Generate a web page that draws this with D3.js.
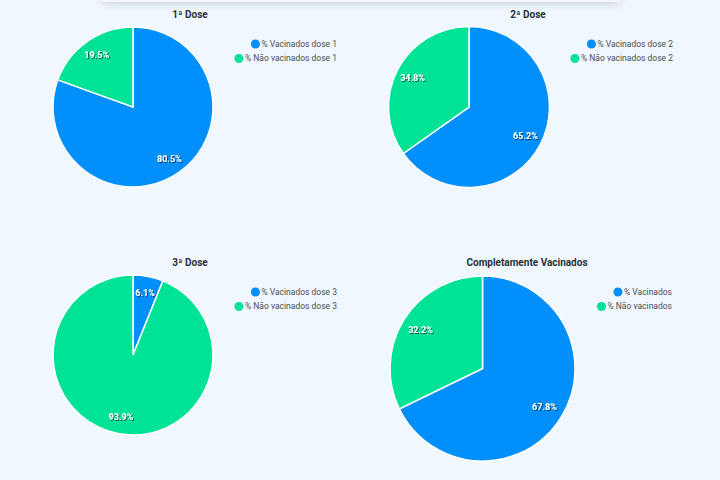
<!DOCTYPE html>
<html><head><meta charset="utf-8">
<script src="https://cdn.jsdelivr.net/npm/d3@7"></script>
<style>
html,body{margin:0;padding:0;background:#f0f7fe;}
svg{display:block;font-family:Roboto,"Noto Sans",sans-serif;}
</style></head>
<body>
<svg id="c" width="720" height="480"></svg>
<script>
const titles = ["1ª Dose","2ª Dose","3ª Dose","Completamente Vacinados"];
const labels = [
  ["% Vacinados dose 1","% Não vacinados dose 1"],
  ["% Vacinados dose 2","% Não vacinados dose 2"],
  ["% Vacinados dose 3","% Não vacinados dose 3"],
  ["% Vacinados","% Não vacinados"]
];
const values = [
  [80.5, 19.5],
  [65.2, 34.8],
  [6.1, 93.9],
  [67.8, 32.2]
];
const colors = ["#008FFB","#00E396"];

// layout per chart
const layout = [
  {cx:133, cy:107, r:80, tx:190, ty:18, lx:337, ly:44},
  {cx:469, cy:107, r:80.5, tx:528, ty:18, lx:673, ly:44},
  {cx:133, cy:355, r:80, tx:190, ty:266, lx:337, ly:292},
  {cx:482.5, cy:368.5, r:92.5, tx:527, ty:266, lx:672, ly:292}
];

const svg = d3.select("#c");
const defs = svg.append("defs");
const f = defs.append("filter").attr("id","sh").attr("x","-20%").attr("y","-50%").attr("width","140%").attr("height","300%");
f.append("feGaussianBlur").attr("in","SourceAlpha").attr("stdDeviation",5);
f.append("feOffset").attr("dy",1).attr("result","b");
f.append("feComponentTransfer").append("feFuncA").attr("type","linear").attr("slope",0.18);
const m = f.append("feMerge"); m.append("feMergeNode"); m.append("feMergeNode").attr("in","SourceGraphic");

const tf = defs.append("filter").attr("id","ts").attr("x","-20%").attr("y","-50%").attr("width","140%").attr("height","200%");
tf.append("feDropShadow").attr("dx",1).attr("dy",1).attr("stdDeviation",0.7).attr("flood-color","#000").attr("flood-opacity",0.6);

// top card
svg.append("rect").attr("x",101).attr("y",-30).attr("width",520).attr("height",32).attr("rx",4)
  .attr("fill","#f3f7fc").attr("filter","url(#sh)");

const pie = d3.pie().sort(null).value(d=>d);
const color = d3.scaleOrdinal().domain([0,1]).range(colors);

layout.forEach((L,i)=>{
  const g = svg.append("g");
  const arcs = pie(values[i]);
  const arc = d3.arc().innerRadius(0).outerRadius(L.r);
  const la = d3.arc().innerRadius(L.r*0.79).outerRadius(L.r*0.79);
  const pg = g.append("g").attr("transform",`translate(${L.cx},${L.cy})`);
  pg.selectAll("path").data(arcs).join("path")
    .attr("d",arc).attr("fill",(d,j)=>color(j))
    .attr("stroke","#fff").attr("stroke-width",1.5);
  pg.selectAll("text").data(arcs).join("text")
    .attr("transform",d=>`translate(${la.centroid(d)})`)
    .attr("text-anchor","middle").attr("dy","0.35em")
    .attr("fill","#fff").attr("font-size",9).attr("font-weight","bold")
    .attr("filter","url(#ts)")
    .text(d=>d.data.toFixed(1)+"%");
  g.append("text").attr("x",L.tx).attr("y",L.ty).attr("text-anchor","middle")
    .attr("font-size",10).attr("font-weight","bold").attr("fill","#263238").text(titles[i]);
  const lg = g.append("g");
  labels[i].forEach((t,j)=>{
    const y = L.ly + j*14.5;
    const txt = lg.append("text").attr("x",L.lx).attr("y",y).attr("dy","0.35em")
      .attr("text-anchor","end").attr("font-size",8.5).attr("fill","#4a5053").text(t);
    const w = txt.node().getComputedTextLength();
    lg.append("circle").attr("cx",L.lx - w - 6).attr("cy",y).attr("r",4.5).attr("fill",colors[j]);
  });
});
</script>
</body></html>
